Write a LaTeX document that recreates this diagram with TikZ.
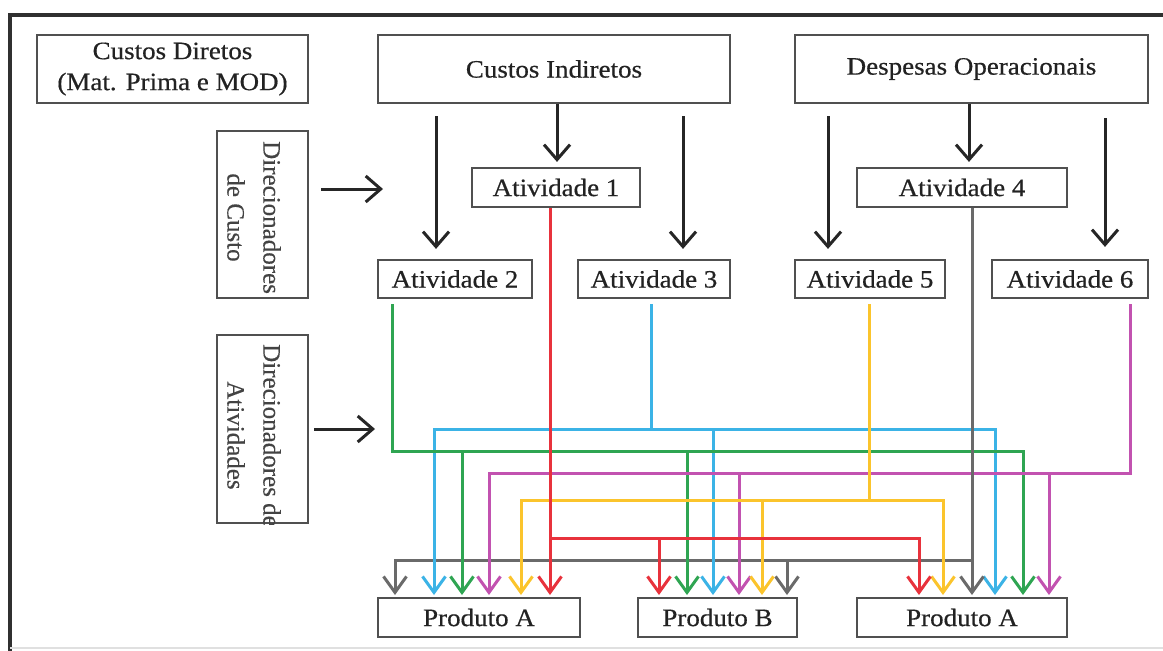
\documentclass[tikz,border=0pt]{standalone}
\usepackage{fontspec}
\setmainfont{Liberation Serif}
\newfontfamily\hfont[FakeStretch=1.08,FakeBold=0.5]{Liberation Serif}
\newfontfamily\vfont[FakeBold=0.3]{Liberation Serif}
\usetikzlibrary{arrows.meta,calc}
\definecolor{cred}{HTML}{E8323C}
\definecolor{cgreen}{HTML}{2FA552}
\definecolor{cblue}{HTML}{3BB3E6}
\definecolor{cmag}{HTML}{C252B0}
\definecolor{cyel}{HTML}{FBC42C}
\definecolor{cgray}{HTML}{6A6A6A}
\definecolor{boxc}{HTML}{505050}
\definecolor{txt}{HTML}{222222}
\definecolor{framec}{HTML}{303030}
\begin{document}
\begin{tikzpicture}[x=1pt,y=-1pt,
  box/.style={draw=boxc, line width=2.2pt, inner sep=0pt, text=txt, align=center,
    font=\hfont\fontsize{25}{31}\selectfont},
  vtext/.style={rotate=-90, anchor=west, align=center, inner sep=0pt, text=txt!85,
    font=\vfont\fontsize{25}{36}\selectfont},
  barr/.style={draw=black!85, line width=3pt, -{Straight Barb[length=15pt,width=26pt]}},
  conn/.style={line width=3pt, -{Straight Barb[length=16pt,width=23pt]}}
]
\useasboundingbox (0,0) rectangle (1163,651);
\fill[white] (0,0) rectangle (1163,651);
% frame
\draw[framec, line width=3.5pt] (10,651) -- (10,15) -- (1163,15);
\draw[black!12, line width=1.5pt] (10,648) -- (1163,648);

% top boxes
\node[box, minimum width=271pt, minimum height=68pt] (cd) at (172.5,69) {Custos Diretos\\(Mat. Prima e MOD)};
\node[box, minimum width=352pt, minimum height=68pt] (ci) at (554,69) {Custos Indiretos};
\node[box, minimum width=353pt, minimum height=68pt] (dop) at (971.5,69) {Despesas Operacionais};

% activities
\node[box, minimum width=168pt, minimum height=39pt] (a1) at (556,187.5) {Atividade 1};
\node[box, minimum width=154pt, minimum height=38pt] (a2) at (455,279) {Atividade 2};
\node[box, minimum width=152pt, minimum height=38pt] (a3) at (654,279) {Atividade 3};
\node[box, minimum width=210pt, minimum height=39pt] (a4) at (962,187.5) {Atividade 4};
\node[box, minimum width=150pt, minimum height=38pt] (a5) at (870,279) {Atividade 5};
\node[box, minimum width=156pt, minimum height=38pt] (a6) at (1070,279) {Atividade 6};

% drivers
\node[box, minimum width=91pt, minimum height=167pt] (dc) at (262.5,214.5) {};
\node[box, minimum width=91pt, minimum height=188pt] (da) at (262.5,429) {};
\begin{scope}
  \clip (dc.south west) rectangle (dc.north east);
  \node[vtext] (dctext) at (254,141) {Direcionadores\\de Custo};
\end{scope}
\begin{scope}
  \clip (da.south west) rectangle (da.north east);
  \node[vtext] (datext) at (254,344) {Direcionadores de\\Atividades};
\end{scope}

% products
\node[box, minimum width=202pt, minimum height=39pt] (pA1) at (479,617.5) {Produto A};
\node[box, minimum width=159pt, minimum height=39pt] (pB) at (717.5,617.5) {Produto B};
\node[box, minimum width=210pt, minimum height=39pt] (pA2) at (962,617.5) {Produto A};

% black arrows
\draw[barr] ([xshift=-118pt,yshift=-12pt]ci.south) -- ([xshift=-19pt,yshift=10pt]a2.north);
\draw[barr] ([xshift=3pt]ci.south) -- ([xshift=1pt,yshift=5pt]a1.north);
\draw[barr] ([xshift=129pt,yshift=-12pt]ci.south) -- ([xshift=29pt,yshift=10pt]a3.north);
\draw[barr] ([xshift=-143.5pt,yshift=-12pt]dop.south) -- ([xshift=-42pt,yshift=10pt]a5.north);
\draw[barr] ([xshift=-2.5pt]dop.south) -- ([xshift=7pt,yshift=5pt]a4.north);
\draw[barr] ([xshift=133.5pt,yshift=-14pt]dop.south) -- ([xshift=35pt,yshift=12pt]a6.north);
\coordinate (dcT) at (383,189);
\coordinate (daT) at (375,429);
\draw[barr] ($(dc.east |- dcT)+(12,0)$) -- (dcT);
\draw[barr] ([xshift=5pt]da.east) -- (daT);

% arrow targets on products
\foreach \n/\x in {gray/395,blu/434,grn/462,mag/489,yel/521,red/550}
  \coordinate (A1\n) at (\x,595);
\foreach \n/\x in {red/659,grn/687,blu/713,mag/739,yel/762,gray/787}
  \coordinate (B\n) at (\x,595);
\foreach \n/\x in {red/919,yel/943,gray/972,blu/995,grn/1023,mag/1049}
  \coordinate (A2\n) at (\x,595);

% buses
\coordinate (grayBus) at (972,560);
\coordinate (redBus) at (550,538);
\coordinate (yelBus) at (869,500);
\coordinate (magBus) at (1130,473);
\coordinate (grnBus) at (392,451);
\coordinate (bluBus) at (651,429);

% gray
\draw[conn, cgray] (grayBus) -| (A1gray);
\draw[conn, cgray] (Bgray |- grayBus) -- (Bgray);
% blue
\draw[cblue, line width=3pt, shorten <=5pt] (a3.south -| bluBus) -- (bluBus);
\draw[conn, cblue] (bluBus) -| (A1blu);
\draw[conn, cblue] (bluBus) -| (A2blu);
\draw[conn, cblue] (Bblu |- bluBus) -- (Bblu);
% green
\draw[conn, cgreen] ([yshift=-5pt]a2.south -| grnBus) -- (grnBus) -| (A2grn);
\draw[conn, cgreen] (A1grn |- grnBus) -- (A1grn);
\draw[conn, cgreen] (Bgrn |- grnBus) -- (Bgrn);
% magenta
\draw[conn, cmag] ([yshift=-5pt]a6.south -| magBus) -- (magBus) -| (A1mag);
\draw[conn, cmag] (A2mag |- magBus) -- (A2mag);
\draw[conn, cmag] (Bmag |- magBus) -- (Bmag);
% yellow
\draw[cyel, line width=3pt, shorten <=5pt] (a5.south -| yelBus) -- (yelBus);
\draw[conn, cyel] (yelBus) -| (A1yel);
\draw[conn, cyel] (yelBus) -| (A2yel);
\draw[conn, cyel] (Byel |- yelBus) -- (Byel);
% red
\draw[conn, cred] (a1.south -| A1red) -- (A1red);
\draw[conn, cred] (redBus) -| (A2red);
\draw[conn, cred] (Bred |- redBus) -- (Bred);
% gray vertical
\draw[conn, cgray] (a4.south -| A2gray) -- (A2gray);
\end{tikzpicture}
\end{document}
